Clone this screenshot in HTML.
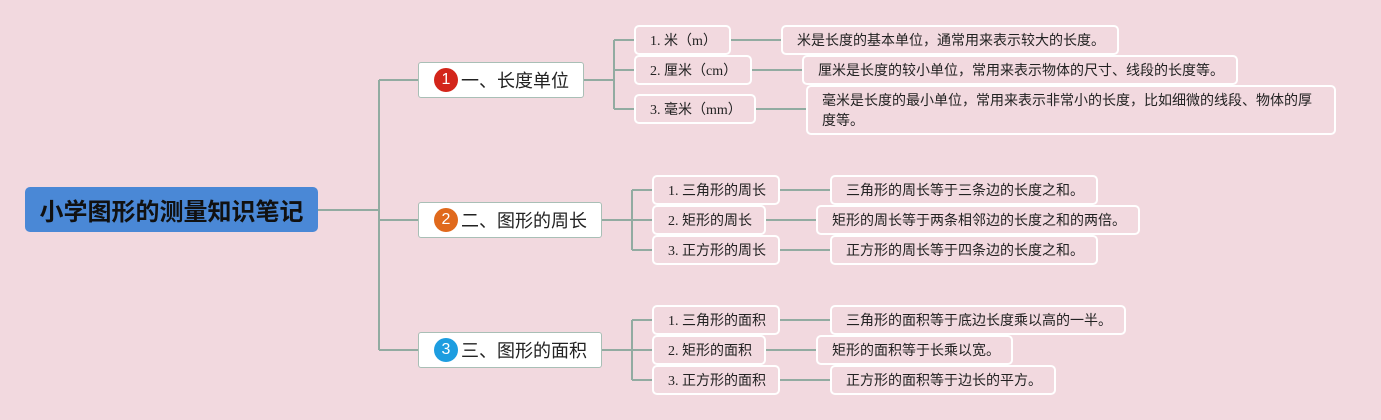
<!DOCTYPE html>
<html><head><meta charset="utf-8">
<style>
html,body{margin:0;padding:0;}
body{width:1381px;height:420px;background:#f2d9df;position:relative;overflow:hidden;font-family:"Liberation Sans","Noto Sans CJK SC",sans-serif;}
.b{position:absolute;box-sizing:border-box;display:flex;align-items:center;white-space:nowrap;}
.root{left:25px;top:187px;width:293px;height:45px;background:#4a88d6;border-radius:5px;justify-content:center;font-size:24px;font-weight:bold;color:#111;}
.l1{background:#fff;border:1.5px solid #a9bfb6;border-radius:3px;font-size:18px;color:#222;padding-left:15px;}
.ic{display:inline-block;width:24px;height:24px;border-radius:50%;color:#fff;font-size:16px;line-height:24px;text-align:center;margin-right:3px;font-family:"Liberation Sans",sans-serif;}
.l2{border:2px solid #fff;border-radius:5px;font-size:14px;color:#222;padding-left:14px;font-family:"Liberation Serif","Noto Sans CJK SC",serif;}
.lf{border:2px solid #fff;border-radius:5px;font-size:14px;color:#222;padding-left:14px;font-family:"Liberation Sans","Noto Sans CJK SC",sans-serif;}
svg{position:absolute;left:0;top:0;}
</style></head><body>
<svg width="1381" height="420">
<g stroke="#92aba1" stroke-width="2" fill="none">
<path d="M318 210 H379 M379 80 V350 M379 80 H418 M379 220 H418 M379 350 H418"/>
<path d="M584 80 H614 M614 40 V109 M614 40 H634 M614 70 H634 M614 109 H634"/>
<path d="M731 40 H781 M752 70 H802 M756 109 H807"/>
<path d="M602 220 H632 M632 190 V250 M632 190 H652 M632 220 H652 M632 250 H652"/>
<path d="M780 190 H830 M766 220 H816 M780 250 H830"/>
<path d="M602 350 H632 M632 320 V380 M632 320 H652 M632 350 H652 M632 380 H652"/>
<path d="M780 320 H830 M766 350 H816 M780 380 H830"/>
</g>
</svg>

<div class="b root">小学图形的测量知识笔记</div>

<div class="b l1" style="left:418px;top:62px;width:166px;height:36px;"><span class="ic" style="background:#d3251a;">1</span>一、长度单位</div>
<div class="b l1" style="left:418px;top:202px;width:184px;height:36px;"><span class="ic" style="background:#e0691c;">2</span>二、图形的周长</div>
<div class="b l1" style="left:418px;top:332px;width:184px;height:36px;"><span class="ic" style="background:#1d9de0;">3</span>三、图形的面积</div>

<div class="b l2" style="left:634px;top:25px;width:97px;height:30px;">1. 米（m）</div>
<div class="b l2" style="left:634px;top:55px;width:118px;height:30px;">2. 厘米（cm）</div>
<div class="b l2" style="left:634px;top:94px;width:122px;height:30px;">3. 毫米（mm）</div>

<div class="b lf" style="left:781px;top:25px;width:338px;height:30px;">米是长度的基本单位，通常用来表示较大的长度。</div>
<div class="b lf" style="left:802px;top:55px;width:436px;height:30px;">厘米是长度的较小单位，常用来表示物体的尺寸、线段的长度等。</div>
<div class="b lf" style="left:806px;top:85px;width:530px;height:50px;white-space:normal;line-height:20px;padding-right:14px;">毫米是长度的最小单位，常用来表示非常小的长度，比如细微的线段、物体的厚度等。</div>

<div class="b l2" style="left:652px;top:175px;width:128px;height:30px;">1. 三角形的周长</div>
<div class="b l2" style="left:652px;top:205px;width:114px;height:30px;">2. 矩形的周长</div>
<div class="b l2" style="left:652px;top:235px;width:128px;height:30px;">3. 正方形的周长</div>

<div class="b lf" style="left:830px;top:175px;width:268px;height:30px;">三角形的周长等于三条边的长度之和。</div>
<div class="b lf" style="left:816px;top:205px;width:324px;height:30px;">矩形的周长等于两条相邻边的长度之和的两倍。</div>
<div class="b lf" style="left:830px;top:235px;width:268px;height:30px;">正方形的周长等于四条边的长度之和。</div>

<div class="b l2" style="left:652px;top:305px;width:128px;height:30px;">1. 三角形的面积</div>
<div class="b l2" style="left:652px;top:335px;width:114px;height:30px;">2. 矩形的面积</div>
<div class="b l2" style="left:652px;top:365px;width:128px;height:30px;">3. 正方形的面积</div>

<div class="b lf" style="left:830px;top:305px;width:296px;height:30px;">三角形的面积等于底边长度乘以高的一半。</div>
<div class="b lf" style="left:816px;top:335px;width:197px;height:30px;">矩形的面积等于长乘以宽。</div>
<div class="b lf" style="left:830px;top:365px;width:226px;height:30px;">正方形的面积等于边长的平方。</div>
</body></html>
